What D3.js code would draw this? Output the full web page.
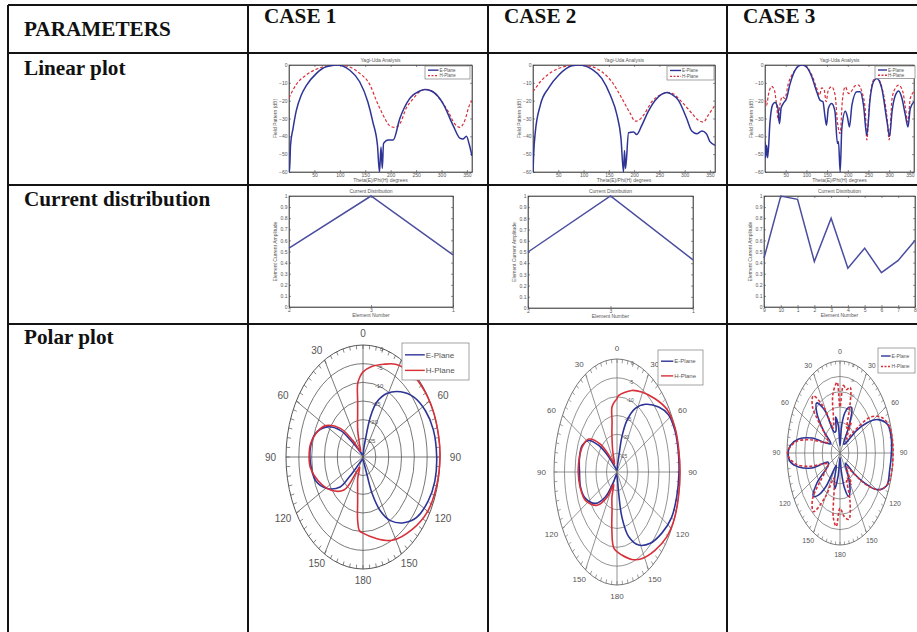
<!DOCTYPE html>
<html lang="en">
<head>
<meta charset="UTF-8">
<title>Yagi-Uda cases</title>
<style>
    body { margin: 0; background: #fff; }
    .cell-text { font-family: "Liberation Serif", "Times New Roman", serif; font-weight: bold; fill: #111; }
    .ax path { stroke: #444; stroke-width: 0.7; fill: none; }
    .ax line { stroke: #444; stroke-width: 0.6; }
    .ax text { font-family: "Liberation Sans", Arial, sans-serif; font-size: 5px; fill: #555; }
    .small { font-family: "Liberation Sans", Arial, sans-serif; fill: #555; }
    .plabel { font-family: "Liberation Sans Narrow", "Liberation Sans", Arial, sans-serif; fill: #555; }
</style>
</head>
<body>
<svg id="fig" width="917" height="632"></svg>
<script src="https://cdn.jsdelivr.net/npm/d3@7"></script>
<script>
// ---- data ----
const headerName = 'PARAMETERS';
const caseNames = ['CASE 1', 'CASE 2', 'CASE 3'];
const rowNames = ['Linear plot', 'Current distribution', 'Polar plot'];

const thetaTicks = [50, 100, 150, 200, 250, 300, 350];
const dbTicks = [0, -10, -20, -30, -40, -50, -60];
const ampTicks = [0, 0.1, 0.2, 0.3, 0.4, 0.5, 0.6, 0.7, 0.8, 0.9, 1];
const polarAngleLabels = ['0', '30', '60', '90', '120', '150', '180', '150', '120', '90', '60', '30'];
const ringLabels = ['-25', '-20', '-15', '-10', '-5', '0'];

// linear patterns [theta deg, dB]
const lin1E = [[0,-60],[1,-60],[3,-45],[8,-35.5],[14,-26],[24,-17],[34,-11.6],[54,-4.7],[73,-1],[95,0],[119,-2.8],[139,-9.4],[155,-20.6],[165,-32],[174,-45],[178,-60],[181,-46],[183.5,-58],[186,-44],[195,-42],[205,-42],[218,-30],[237,-19],[257,-14.6],[267,-13.7],[283,-15],[303,-21.6],[323,-34],[336,-41],[342,-41.5],[349,-40],[355,-45],[360,-51]];
const lin1H = [[0,-18.5],[14,-11],[34,-5.6],[54,-2.3],[80,-0.4],[96,0],[119,-1.1],[139,-4.7],[159,-11],[172,-20],[185,-28],[198,-34],[208,-35],[218,-33],[231,-24],[244,-19],[260,-14.4],[270,-13.7],[283,-15],[296,-18.8],[313,-26],[326,-33],[336,-35],[346,-31],[355,-22.5],[360,-20]];
const lin2E = [[0,-60],[1.3,-50],[4.6,-37.5],[14.5,-22.5],[31,-12.8],[51,-5.6],[77,-0.4],[92,0],[116,-2.3],[136,-7.5],[153,-17],[166,-28],[174,-41],[179,-60],[181,-48],[183,-58],[189,-38],[199,-37.5],[205,-39],[215,-34],[228,-26],[241,-20],[255,-16.3],[265,-15.4],[274,-16.3],[288,-20],[304,-30],[314,-37],[324,-38.5],[334,-37],[343,-38.5],[350,-43],[360,-45]];
const lin2H = [[0,-15],[14.5,-9.4],[37.5,-3.8],[64,-0.8],[90,0],[116,-0.9],[136,-3.8],[156,-9.4],[176,-18.8],[192,-27],[202,-31.5],[209,-31],[219,-28],[235,-20.6],[255,-16.3],[265,-15.4],[278,-16.3],[294,-20.6],[314,-27],[327,-31],[337,-32],[347,-28],[360,-22.5]];
const lin3E = [[0,-43],[1.6,-52],[4,-45],[6.5,-52],[12,-32],[18,-22.5],[24,-21],[31,-24],[35,-33],[39,-24],[44,-21.6],[52,-18.8],[60,-11],[69,-4.7],[81,-0.6],[90,0],[101,-1.3],[113,-6.6],[125,-15],[133,-19.7],[140,-20.6],[145,-29],[148.6,-33.8],[153,-24.4],[161,-21.6],[169,-26],[175,-44],[177.6,-43],[181.6,-60],[185.6,-35.6],[194,-26],[199,-29],[204,-34.7],[210,-22.5],[222,-15],[230,-15],[238,-22.5],[246,-39.4],[254,-18.8],[262,-9.4],[270,-7.5],[282,-13],[295,-32],[301,-40],[307,-26],[315,-17],[323,-14.6],[331,-18.8],[339,-28],[345.5,-34.7],[351,-24.4],[360,-20.6]];
const lin3H = [[0,-19.7],[4,-22.5],[8,-17],[16,-12],[22.6,-14],[28,-22.5],[32,-31],[36,-22.5],[42,-17.8],[48,-18.8],[56.5,-10.3],[69,-4.1],[81,-0.6],[90,0],[101,-1.1],[113,-5.6],[125,-13],[131.6,-17],[137,-12.8],[143,-14],[147.7,-20.6],[153,-14],[161,-12.2],[169.5,-17],[175,-32],[181.6,-38.4],[187,-19.7],[194,-12.2],[202,-16],[208,-15],[218,-11.6],[226,-11.3],[234,-15],[242,-24.4],[246,-42],[252,-22.5],[262,-8.4],[270,-7.1],[282,-12.2],[295,-30],[300,-42],[307,-18.8],[315,-13],[323,-11.3],[333,-15],[339,-23.4],[345,-32],[351,-18.8],[360,-15]];

// current distribution
const curLabels1 = ['2', '3', '1'];
const cur1 = [0.53, 1.0, 0.47];
const curLabels2 = ['2', '3', '1'];
const cur2 = [0.50, 1.0, 0.43];
const curLabels3 = ['9', '10', '1', '2', '3', '4', '5', '6', '7', '8'];
const cur3 = [0.44, 1.0, 0.97, 0.41, 0.80, 0.35, 0.53, 0.31, 0.42, 0.60];

// polar patterns [angle deg clockwise from top, radius fraction]
const pol1E = [[0,0.02],[8,0.08],[11,0.15],[15,0.37],[20,0.52],[29,0.65],[40,0.76],[51,0.85],[63,0.91],[75,0.945],[90,0.957],[103,0.958],[115,0.933],[128,0.88],[138,0.79],[148,0.67],[155,0.53],[160,0.35],[162,0.16],[170,0.04],[190,0.02],[215,0.04],[222,0.12],[225,0.25],[228,0.4],[239,0.545],[251,0.65],[265,0.684],[278,0.687],[289,0.65],[300,0.538],[309,0.378],[313,0.22],[318,0.1],[330,0.03],[350,0.02]];
const pol1H = [[0,0.76],[7,0.81],[18,0.87],[27,0.93],[38,0.97],[50,0.99],[65,1.0],[80,1.0],[90,1.0],[105,0.99],[120,0.97],[135,0.91],[153,0.835],[168,0.74],[180,0.68],[184,0.66],[187,0.57],[190,0.40],[195,0.27],[200,0.2],[205,0.1],[212,0.15],[220,0.385],[235,0.514],[250,0.62],[262,0.69],[270,0.70],[280,0.69],[290,0.64],[300,0.56],[311,0.39],[318,0.2],[328,0.06],[338,0.12],[344,0.25],[350,0.40],[352,0.5],[354,0.66],[357,0.72]];
const pol2E = [[0,0.02],[8,0.06],[12,0.15],[14,0.32],[19,0.48],[27,0.63],[37,0.75],[49,0.876],[58,0.96],[68,0.99],[79,0.99],[90,0.984],[103,0.973],[115,0.955],[127,0.895],[140,0.823],[152,0.732],[162,0.603],[169,0.405],[172,0.19],[176,0.05],[200,0.02],[212,0.1],[220,0.288],[231,0.441],[245,0.553],[257,0.594],[270,0.595],[282,0.609],[293,0.60],[302,0.527],[309,0.373],[315,0.2],[322,0.06],[340,0.02]];
const pol2H = [[0,0.65],[2,0.677],[18,0.759],[29,0.809],[43,0.886],[55,0.967],[67,1.0],[77,1.0],[90,1.0],[103,1.0],[115,1.0],[126,0.976],[139,0.918],[153,0.861],[163,0.809],[174,0.739],[184,0.678],[189,0.52],[193,0.35],[200,0.234],[206,0.12],[215,0.271],[227,0.432],[243,0.559],[257,0.60],[270,0.616],[283,0.61],[293,0.59],[303,0.535],[313,0.363],[322,0.15],[330,0.08],[340,0.2],[347,0.36],[350,0.45],[352,0.579],[356,0.62]];
const pol3E = [[0,0.08],[6,0.3],[12,0.45],[18,0.52],[24,0.54],[30,0.35],[36,0.12],[45,0.15],[52,0.4],[57,0.6],[63,0.8],[71,0.95],[81,0.98],[90,0.97],[101,0.955],[112,0.948],[120,0.795],[125,0.57],[130,0.35],[138,0.15],[148,0.3],[155,0.45],[161,0.5],[167,0.4],[173,0.2],[180,0.05],[188,0.25],[194,0.4],[200,0.3],[208,0.15],[216,0.45],[222,0.62],[227,0.69],[233,0.55],[240,0.25],[247,0.25],[253,0.556],[259,0.794],[264,0.94],[270,0.98],[275,0.94],[281,0.794],[287,0.556],[292,0.3],[300,0.2],[308,0.4],[315,0.62],[321,0.7],[328,0.55],[335,0.25],[342,0.25],[348,0.4],[354,0.3]];
const pol3H = [[0,0.5],[5,0.74],[10,0.7],[15,0.74],[20,0.55],[26,0.3],[32,0.4],[40,0.2],[48,0.35],[56,0.7],[64,0.88],[72,0.97],[82,1.0],[90,1.0],[100,1.0],[110,0.97],[118,0.85],[125,0.6],[132,0.3],[140,0.2],[148,0.4],[155,0.3],[160,0.55],[167,0.74],[173,0.7],[180,0.6],[185,0.8],[190,0.72],[196,0.4],[203,0.3],[210,0.55],[218,0.81],[226,0.72],[234,0.35],[242,0.25],[250,0.35],[256,0.6],[262,0.85],[270,0.99],[278,0.85],[284,0.6],[290,0.35],[298,0.25],[306,0.35],[314,0.72],[321,0.8],[328,0.6],[335,0.3],[342,0.4],[348,0.65],[356,0.77]];

// ---- layout ----
const W = 917, H = 632;
const tbl = { left: 8, top: 5, cols: [248, 488, 727], rows: [53, 185, 324] };
const blue = '#2e3496', red = '#d8303a', curBlue = '#4b4e9e';
const headFont = 21.2;

const linBoxes = [
    { x0: 289, x1: 472, y0: 65, y1: 172, leg: { x: 425, y: 66, w: 45, h: 13 } },
    { x0: 533, x1: 715, y0: 65, y1: 172, leg: { x: 667, y: 66, w: 47, h: 14 } },
    { x0: 765, x1: 914, y0: 65, y1: 172, leg: { x: 875, y: 66, w: 40, h: 12.5 } }
];
const curBoxes = [
    { x0: 289, x1: 453, y0: 196, y1: 307 },
    { x0: 528, x1: 693, y0: 196, y1: 308 },
    { x0: 764, x1: 915, y0: 196, y1: 307 }
];
const polBoxes = [
    { cx: 363, cy: 457, rx: 77, ry: 112, font: 10, grid: '#555', leg: { x: 402, y: 343, w: 67, h: 37, font: 8 }, dashH: false },
    { cx: 617, cy: 472, rx: 63, ry: 113, font: 8, grid: '#777', leg: { x: 658, y: 350, w: 45, h: 35, font: 6 }, dashH: false },
    { cx: 840, cy: 453, rx: 53, ry: 92, font: 7, grid: '#777', leg: { x: 878, y: 348, w: 37, h: 25, font: 5 }, dashH: true }
];

const svg = d3.select('#fig');
svg.append('rect').attr('width', W).attr('height', H).attr('fill', '#fff');

// ---- table ----
const lines = svg.append('g').attr('stroke', '#141414').attr('stroke-width', 2);
lines.append('line').attr('x1', tbl.left).attr('x2', W).attr('y1', tbl.top).attr('y2', tbl.top);
tbl.rows.forEach(r => lines.append('line').attr('x1', tbl.left).attr('x2', W).attr('y1', r).attr('y2', r));
[tbl.left].concat(tbl.cols).forEach(c => lines.append('line').attr('x1', c).attr('x2', c).attr('y1', tbl.top).attr('y2', H));

svg.append('text').attr('class', 'cell-text').attr('x', 24).attr('y', 36).attr('font-size', headFont).text(headerName);
caseNames.forEach((n, i) => {
    svg.append('text').attr('class', 'cell-text').attr('x', tbl.cols[i] + 16).attr('y', 23).attr('font-size', headFont).text(n);
});
const rowBase = [75, 206, 344];
rowNames.forEach((n, i) => {
    svg.append('text').attr('class', 'cell-text').attr('x', 24).attr('y', rowBase[i]).attr('font-size', headFont).text(n);
});

let clipId = 0;
function clipFor(x, y, w, h) {
    clipId++;
    svg.append('clipPath').attr('id', 'clip' + clipId)
        .append('rect').attr('x', x).attr('y', y).attr('width', w).attr('height', h);
    return 'url(#clip' + clipId + ')';
}

function legend(g, L, dashH, lineFrac) {
    g.append('rect').attr('x', L.x).attr('y', L.y).attr('width', L.w).attr('height', L.h)
        .attr('fill', '#fff').attr('stroke', '#666').attr('stroke-width', 0.6);
    const lx0 = L.x + 3, lx1 = L.x + L.w * lineFrac;
    const ys = [L.y + L.h * 0.32, L.y + L.h * 0.74];
    [['E-Plane', blue, null], ['H-Plane', red, dashH ? '2,1.5' : null]].forEach((e, i) => {
        g.append('line').attr('x1', lx0).attr('x2', lx1).attr('y1', ys[i]).attr('y2', ys[i])
            .attr('stroke', e[1]).attr('stroke-width', 1.4).attr('stroke-dasharray', e[2]);
        g.append('text').attr('class', 'small').attr('x', lx1 + 1).attr('y', ys[i])
            .attr('dy', '0.35em').attr('font-size', L.font || 4.5).text(e[0]);
    });
}

// ---- linear plots ----
function drawLinear(b, eData, hData) {
    const g = svg.append('g');
    const x = d3.scaleLinear([0, 360], [b.x0, b.x1]);
    const y = d3.scaleLinear([-60, 0], [b.y1, b.y0]);

    g.append('rect').attr('x', b.x0).attr('y', b.y0).attr('width', b.x1 - b.x0).attr('height', b.y1 - b.y0)
        .attr('fill', '#fff').attr('stroke', '#444').attr('stroke-width', 0.7);
    g.append('g').attr('class', 'ax').attr('transform', `translate(0,${b.y1})`)
        .call(d3.axisBottom(x).tickValues(thetaTicks).tickSizeInner(-2).tickSizeOuter(0).tickPadding(1.5));
    g.append('g').attr('class', 'ax').attr('transform', `translate(0,${b.y0})`)
        .call(d3.axisTop(x).tickValues(thetaTicks).tickSizeInner(-2).tickSizeOuter(0).tickFormat(''));
    g.append('g').attr('class', 'ax').attr('transform', `translate(${b.x0},0)`)
        .call(d3.axisLeft(y).tickValues(dbTicks).tickSizeInner(-2).tickSizeOuter(0).tickPadding(1.5));
    g.append('g').attr('class', 'ax').attr('transform', `translate(${b.x1},0)`)
        .call(d3.axisRight(y).tickValues(dbTicks).tickSizeInner(-2).tickSizeOuter(0).tickFormat(''));

    const cp = clipFor(b.x0, b.y0, b.x1 - b.x0, b.y1 - b.y0);
    const line = d3.line().x(d => x(d[0])).y(d => y(d[1])).curve(d3.curveMonotoneX);
    g.append('path').attr('d', line(hData)).attr('clip-path', cp).attr('fill', 'none')
        .attr('stroke', red).attr('stroke-width', 1.2).attr('stroke-dasharray', '3,2');
    g.append('path').attr('d', line(eData)).attr('clip-path', cp).attr('fill', 'none')
        .attr('stroke', blue).attr('stroke-width', 1.5);

    const cx = (b.x0 + b.x1) / 2, cy = (b.y0 + b.y1) / 2;
    g.append('text').attr('class', 'small').attr('x', cx).attr('y', b.y0 - 3).attr('text-anchor', 'middle')
        .attr('font-size', 5).text('Yagi-Uda Analysis');
    g.append('text').attr('class', 'small').attr('x', cx).attr('y', b.y1 + 10).attr('text-anchor', 'middle')
        .attr('font-size', 5).text('Theta(E)/Phi(H) degrees');
    g.append('text').attr('class', 'small').attr('transform', `translate(${b.x0 - 12},${cy}) rotate(-90)`)
        .attr('text-anchor', 'middle').attr('font-size', 5).text('Field Pattern (dB)');
    legend(g, b.leg, true, 0.3);
}

// ---- current distribution ----
function drawCurrent(b, labels, vals) {
    const g = svg.append('g');
    const x = d3.scalePoint(labels, [b.x0, b.x1]);
    const y = d3.scaleLinear([0, 1], [b.y1, b.y0]);

    g.append('rect').attr('x', b.x0).attr('y', b.y0).attr('width', b.x1 - b.x0).attr('height', b.y1 - b.y0)
        .attr('fill', '#fff').attr('stroke', '#444').attr('stroke-width', 0.7);
    g.append('g').attr('class', 'ax').attr('transform', `translate(0,${b.y1})`)
        .call(d3.axisBottom(x).tickSizeInner(-2).tickSizeOuter(0).tickPadding(1.5));
    g.append('g').attr('class', 'ax').attr('transform', `translate(0,${b.y0})`)
        .call(d3.axisTop(x).tickSizeInner(-2).tickSizeOuter(0).tickFormat(''));
    g.append('g').attr('class', 'ax').attr('transform', `translate(${b.x0},0)`)
        .call(d3.axisLeft(y).tickValues(ampTicks).tickFormat(d3.format('~g')).tickSizeInner(-2).tickSizeOuter(0).tickPadding(1.5));
    g.append('g').attr('class', 'ax').attr('transform', `translate(${b.x1},0)`)
        .call(d3.axisRight(y).tickValues(ampTicks).tickSizeInner(-2).tickSizeOuter(0).tickFormat(''));

    const line = d3.line().x((d, i) => x(labels[i])).y(d => y(d));
    g.append('path').attr('d', line(vals)).attr('fill', 'none').attr('stroke', curBlue).attr('stroke-width', 1.5);

    const cx = (b.x0 + b.x1) / 2, cy = (b.y0 + b.y1) / 2;
    g.append('text').attr('class', 'small').attr('x', cx).attr('y', b.y0 - 3).attr('text-anchor', 'middle')
        .attr('font-size', 5).text('Current Distribution');
    g.append('text').attr('class', 'small').attr('x', cx).attr('y', b.y1 + 10).attr('text-anchor', 'middle')
        .attr('font-size', 5).text('Element Number');
    g.append('text').attr('class', 'small').attr('transform', `translate(${b.x0 - 12},${cy}) rotate(-90)`)
        .attr('text-anchor', 'middle').attr('font-size', 5).text('Element Current Amplitude');
}

// ---- polar ----
function drawPolar(p, eData, hData) {
    const g = svg.append('g');
    const xs = d3.scaleLinear([-1, 1], [p.cx - p.rx, p.cx + p.rx]);
    const ys = d3.scaleLinear([-1, 1], [p.cy + p.ry, p.cy - p.ry]);
    const rad = a => a * Math.PI / 180;
    const n = ringLabels.length;

    ringLabels.forEach((t, i) => {
        const f = (i + 1) / n;
        g.append('ellipse').attr('cx', p.cx).attr('cy', p.cy).attr('rx', p.rx * f).attr('ry', p.ry * f)
            .attr('fill', 'none').attr('stroke', p.grid).attr('stroke-width', i === n - 1 ? 1 : 0.8);
        g.append('text').attr('class', 'plabel').attr('x', xs(f * Math.sin(rad(12))) + 1).attr('y', ys(f * Math.cos(rad(12))) + 4)
            .attr('font-size', p.font * 0.6).text(t);
    });
    polarAngleLabels.forEach((t, i) => {
        const a = rad(i * 30);
        if (i < 6) {
            g.append('line').attr('x1', xs(-Math.sin(a))).attr('y1', ys(-Math.cos(a)))
                .attr('x2', xs(Math.sin(a))).attr('y2', ys(Math.cos(a)))
                .attr('stroke', p.grid).attr('stroke-width', 0.8);
        }
        g.append('text').attr('class', 'plabel').attr('x', xs(1.2 * Math.sin(a))).attr('y', ys(1.1 * Math.cos(a)))
            .attr('text-anchor', 'middle').attr('dy', '0.35em').attr('font-size', p.font).text(t);
    });
    d3.range(0, 360, 5).forEach(d => {
        const a = rad(d);
        g.append('line').attr('x1', xs(Math.sin(a))).attr('y1', ys(Math.cos(a)))
            .attr('x2', xs(0.95 * Math.sin(a))).attr('y2', ys(0.965 * Math.cos(a)))
            .attr('stroke', p.grid).attr('stroke-width', 0.7);
    });

    const curve = d3.line()
        .x(d => xs(d[1] * Math.sin(rad(d[0]))))
        .y(d => ys(d[1] * Math.cos(rad(d[0]))))
        .curve(d3.curveCatmullRomClosed.alpha(0.5));
    g.append('path').attr('d', curve(eData)).attr('fill', 'none').attr('stroke', blue).attr('stroke-width', 1.6);
    g.append('path').attr('d', curve(hData)).attr('fill', 'none').attr('stroke', red).attr('stroke-width', 1.6)
        .attr('stroke-dasharray', p.dashH ? '3,2' : null);
    legend(g, p.leg, p.dashH, 0.34);
}

drawLinear(linBoxes[0], lin1E, lin1H);
drawLinear(linBoxes[1], lin2E, lin2H);
drawLinear(linBoxes[2], lin3E, lin3H);
drawCurrent(curBoxes[0], curLabels1, cur1);
drawCurrent(curBoxes[1], curLabels2, cur2);
drawCurrent(curBoxes[2], curLabels3, cur3);
drawPolar(polBoxes[0], pol1E, pol1H);
drawPolar(polBoxes[1], pol2E, pol2H);
drawPolar(polBoxes[2], pol3E, pol3H);
</script>
</body>
</html>
